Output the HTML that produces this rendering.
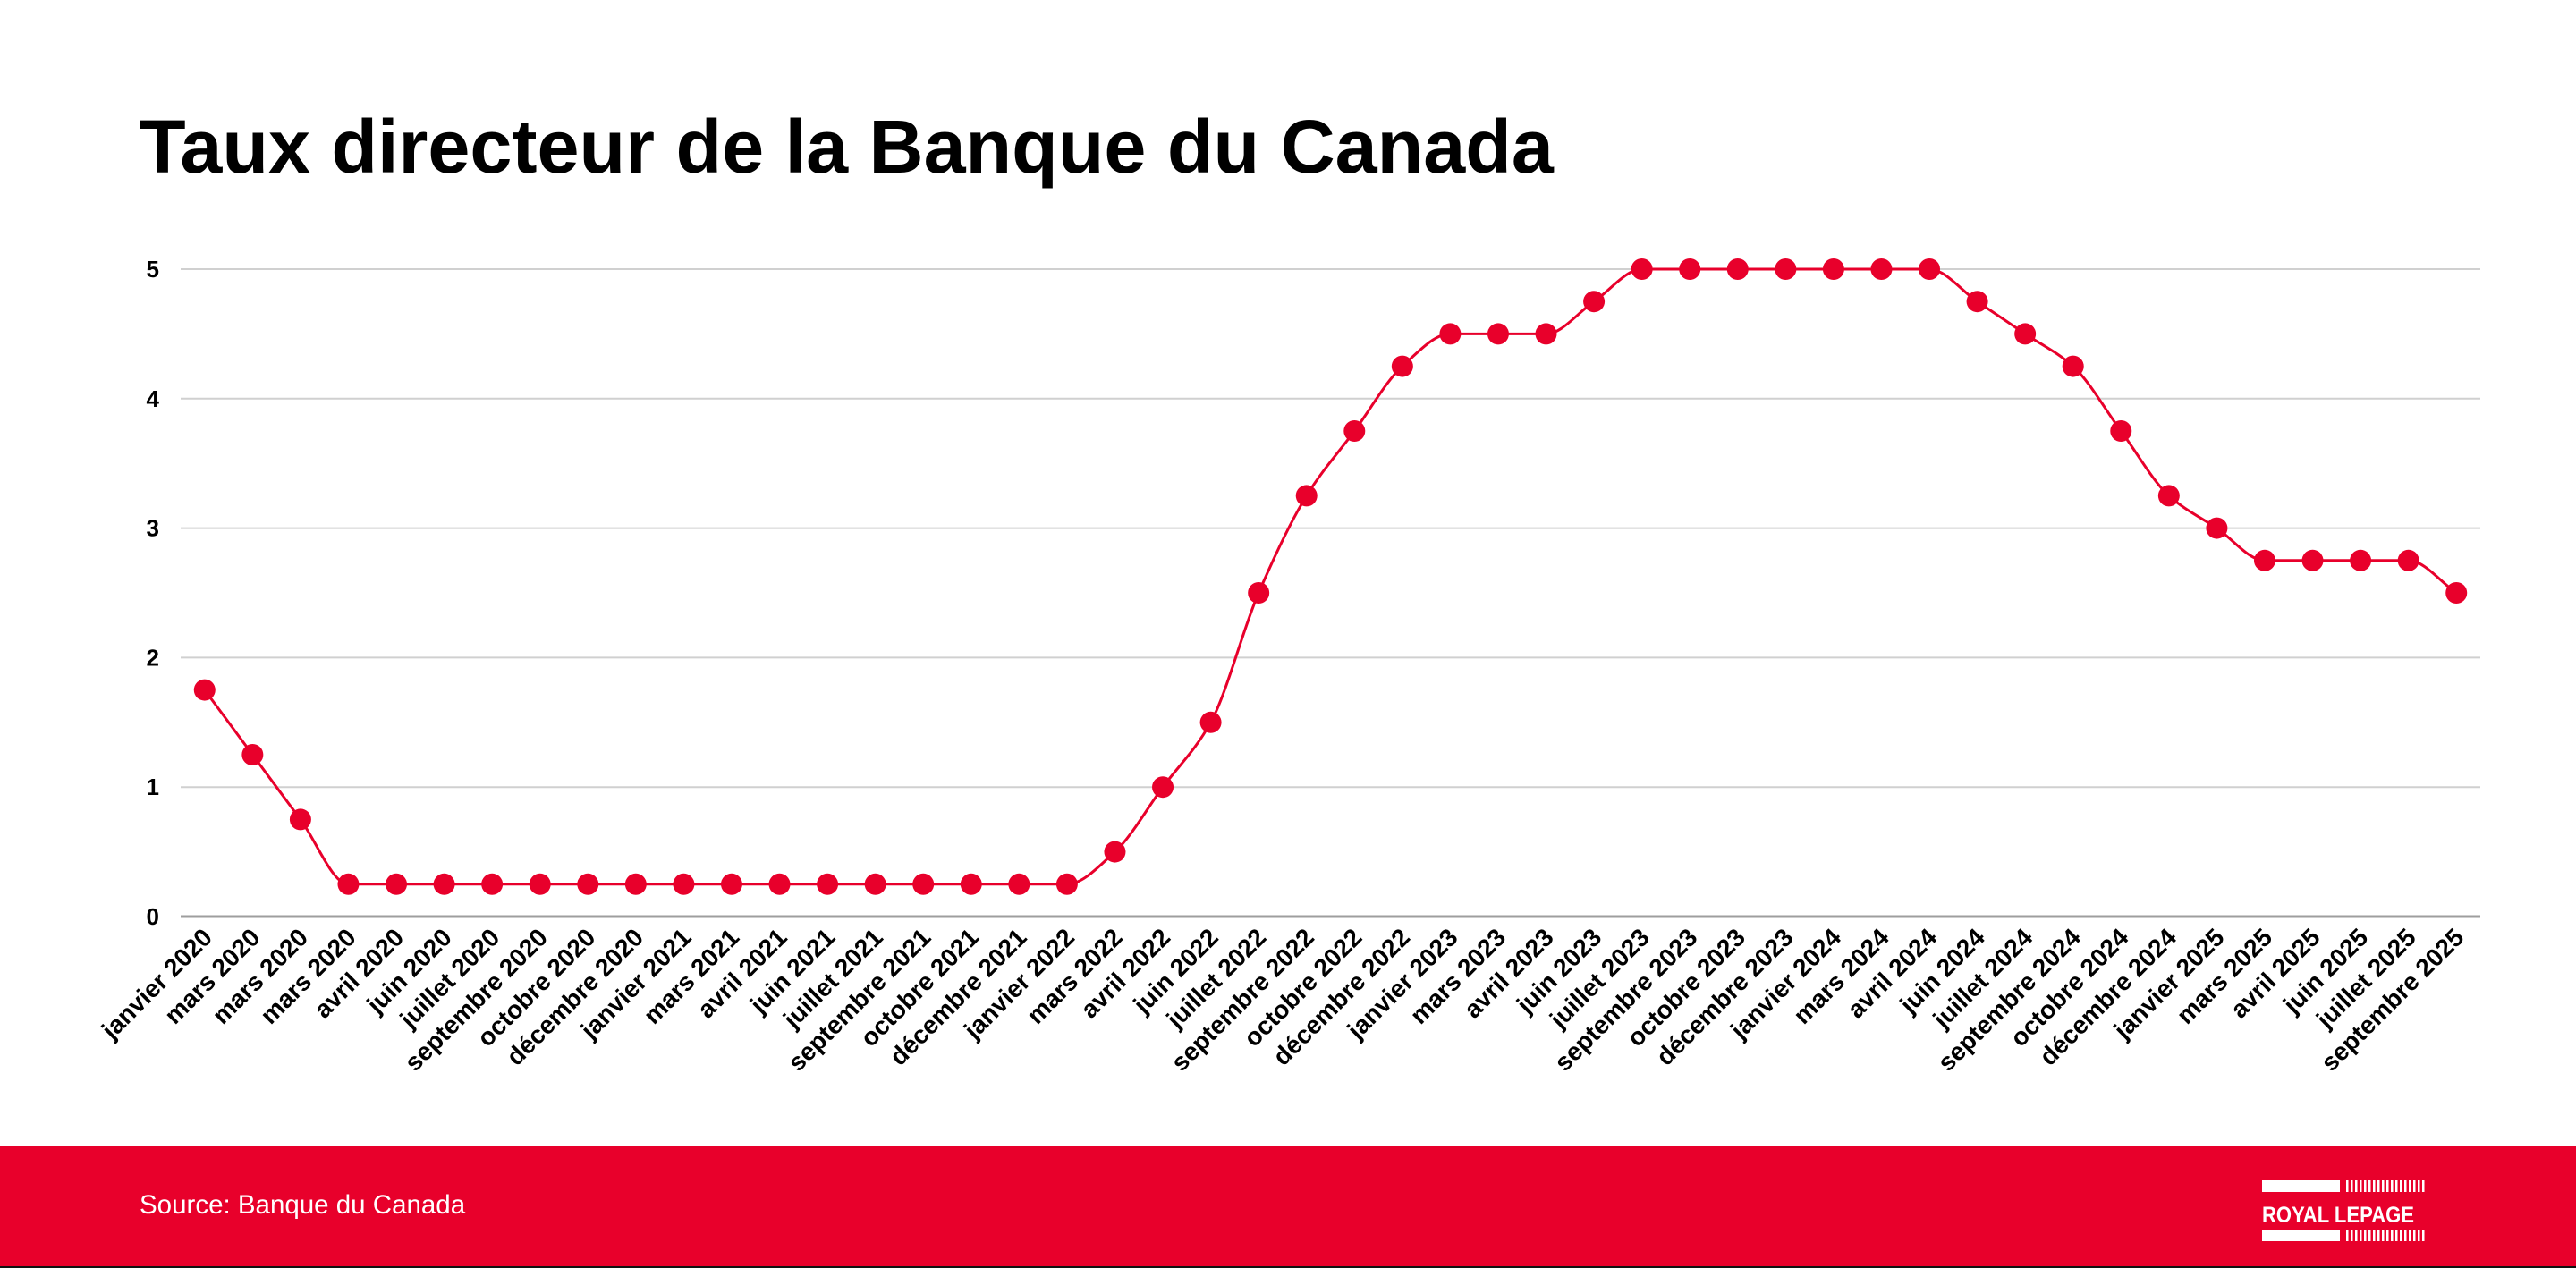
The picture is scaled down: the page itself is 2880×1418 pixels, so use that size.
<!DOCTYPE html>
<html><head><meta charset="utf-8"><style>
html,body{margin:0;padding:0;background:#fff;}
body{width:2880px;height:1418px;position:relative;overflow:hidden;font-family:"Liberation Sans",Arial,sans-serif;}
#title{position:absolute;left:156px;top:122px;font-size:84.5px;font-weight:bold;color:#000;white-space:nowrap;line-height:1;}
#footer{position:absolute;left:0;top:1282px;width:2880px;height:134px;background:#E8002B;border-bottom:2px solid #111;}
#src{position:absolute;left:156px;top:49px;font-size:29.5px;color:#fff;}
svg{position:absolute;left:0;top:0;}
</style></head><body>
<div id="title">Taux directeur de la Banque du Canada</div>
<svg id="c" width="2880" height="1282" xmlns="http://www.w3.org/2000/svg"></svg>
<div id="footer"><div id="src">Source: Banque du Canada</div>
<svg width="2880" height="134" style="left:0;top:0">
<rect x="2529" y="38" width="87" height="13" fill="#fff"/>
<rect x="2529" y="93" width="87" height="13" fill="#fff"/>
<g id="ticks"></g>
<text x="2529" y="85" font-family="Liberation Sans,sans-serif" font-weight="bold" font-size="25" fill="#fff" textLength="170" lengthAdjust="spacingAndGlyphs">ROYAL LEPAGE</text>
</svg></div>
<script>
var NS="http://www.w3.org/2000/svg";
var svg=document.getElementById('c');
function el(n,a,t){var e=document.createElementNS(NS,n);for(var k in a)e.setAttribute(k,a[k]);if(t!=null)e.textContent=t;return e;}
var x0=202,x1=2773,y0=1025,u=144.8;
for(var v=0;v<=5;v++){var y=y0-u*v;
svg.appendChild(el('line',{x1:x0,x2:x1,y1:y,y2:y,stroke:v==0?'#9e9e9e':'#d0d0d0','stroke-width':v==0?3:2}));
svg.appendChild(el('text',{x:178,y:y+9,'text-anchor':'end','font-size':26,'font-weight':'bold','font-family':'Liberation Sans,sans-serif'},String(v)));}
var labels=["janvier 2020","mars 2020","mars 2020","mars 2020","avril 2020","juin 2020","juillet 2020","septembre 2020","octobre 2020","décembre 2020","janvier 2021","mars 2021","avril 2021","juin 2021","juillet 2021","septembre 2021","octobre 2021","décembre 2021","janvier 2022","mars 2022","avril 2022","juin 2022","juillet 2022","septembre 2022","octobre 2022","décembre 2022","janvier 2023","mars 2023","avril 2023","juin 2023","juillet 2023","septembre 2023","octobre 2023","décembre 2023","janvier 2024","mars 2024","avril 2024","juin 2024","juillet 2024","septembre 2024","octobre 2024","décembre 2024","janvier 2025","mars 2025","avril 2025","juin 2025","juillet 2025","septembre 2025"];
var vals=[1.75,1.25,0.75,0.25,0.25,0.25,0.25,0.25,0.25,0.25,0.25,0.25,0.25,0.25,0.25,0.25,0.25,0.25,0.25,0.5,1,1.5,2.5,3.25,3.75,4.25,4.5,4.5,4.5,4.75,5,5,5,5,5,5,5,4.75,4.5,4.25,3.75,3.25,3,2.75,2.75,2.75,2.75,2.5];
var n=vals.length,w=(x1-x0)/n,P=[];
for(var i=0;i<n;i++)P.push([x0+w*(i+0.5),y0-u*vals[i]]);
var d=[],m=[];for(i=0;i<n-1;i++)d.push((P[i+1][1]-P[i][1])/w);
m[0]=d[0];m[n-1]=d[n-2];
for(i=1;i<n-1;i++){if(d[i-1]*d[i]<=0)m[i]=0;else m[i]=2/(1/d[i-1]+1/d[i]);}
var p="M"+P[0][0]+","+P[0][1];
for(i=0;i<n-1;i++){var h=w/3;p+=" C"+(P[i][0]+h)+","+(P[i][1]+m[i]*h)+" "+(P[i+1][0]-h)+","+(P[i+1][1]-m[i+1]*h)+" "+P[i+1][0]+","+P[i+1][1];}
svg.appendChild(el('path',{d:p,fill:'none',stroke:'#E8002B','stroke-width':3}));
for(i=0;i<n;i++){svg.appendChild(el('circle',{cx:P[i][0],cy:P[i][1],r:12,fill:'#E8002B'}));
var ax=P[i][0]+10,ay=1050;
svg.appendChild(el('text',{x:ax,y:ay,'text-anchor':'end','font-size':28,'font-weight':'bold','font-family':'Liberation Sans,sans-serif',transform:'rotate(-45 '+ax+' '+ay+')'},labels[i]));}
var g=document.getElementById('ticks');
for(var k=0;k<18;k++){var tx=2623+k*5;
g.appendChild(el('rect',{x:tx,y:38,width:2.5,height:13,fill:'#fff'}));
g.appendChild(el('rect',{x:tx,y:93,width:2.5,height:13,fill:'#fff'}));}
</script>
</body></html>
